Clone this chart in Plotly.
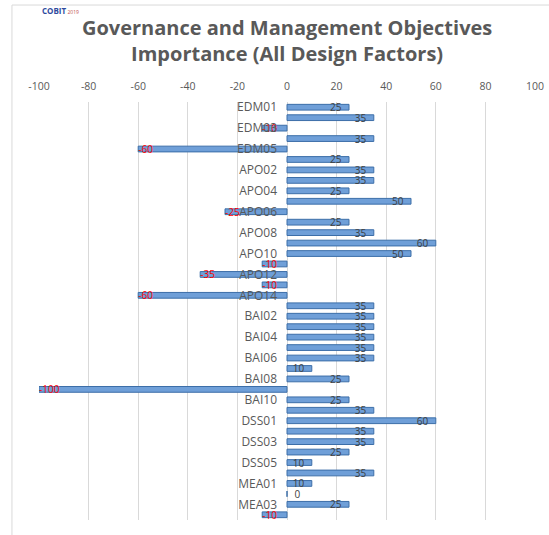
import plotly.graph_objects as go

categories = [
    "EDM01", "EDM02", "EDM03", "EDM04", "EDM05",
    "APO01", "APO02", "APO03", "APO04", "APO05", "APO06", "APO07",
    "APO08", "APO09", "APO10", "APO11", "APO12", "APO13", "APO14",
    "BAI01", "BAI02", "BAI03", "BAI04", "BAI05", "BAI06", "BAI07",
    "BAI08", "BAI09", "BAI10", "BAI11",
    "DSS01", "DSS02", "DSS03", "DSS04", "DSS05", "DSS06",
    "MEA01", "MEA02", "MEA03", "MEA04",
]
importance = [
    25, 35, -10, 35, -60,
    25, 35, 35, 25, 50, -25, 25,
    35, 60, 50, -10, -35, -10, -60,
    35, 35, 35, 35, 35, 35, 10,
    25, -100, 25, 35,
    60, 35, 35, 25, 10, 35,
    10, 0, 25, -10,
]
x_ticks = [-100, -80, -60, -40, -20, 0, 20, 40, 60, 80, 100]
x_tick_labels = ["-100", "-80", "-60", "-40", "-20", "0", "20", "40", "60", "80", "100"]

text_colors = ["#ff0000" if v < 0 else "#404040" for v in importance]
text_pos = ["outside" if v == 0 else "inside" for v in importance]


def label(v):
    if v > 0:
        return str(v) + "\u2002\u00a0"
    if v == 0:
        return "\u2002\u00a0" + str(v)
    return str(v)


bar_text = [label(v) for v in importance]

fig = go.Figure(go.Bar(
    x=importance, y=categories, orientation="h",
    marker=dict(color="#6f9fd8", line=dict(color="#3c6ea8", width=1)),
    text=bar_text,
    textposition=text_pos,
    textangle=0,
    insidetextanchor="end",
    textfont=dict(size=10, color=text_colors, family="Open Sans"),
    outsidetextfont=dict(size=10, color="#404040", family="Open Sans"),
    cliponaxis=False,
))

fig.update_layout(
    width=549, height=535,
    margin=dict(l=39, r=14, t=102, b=15),
    paper_bgcolor="white", plot_bgcolor="white",
    showlegend=False,
    bargap=0.45,
    uniformtext=dict(minsize=10, mode="show"),
    font=dict(family="Open Sans", color="#595959"),
    title=dict(
        text="<b>Governance and Management Objectives<br>Importance (All Design Factors)</b>",
        font=dict(size=20, color="#595959", family="Open Sans"),
        x=0.523, xref="container", xanchor="center",
        y=0.934, yref="container", yanchor="top",
    ),
    xaxis=dict(
        range=[-100, 100], side="top", tickvals=x_ticks, ticktext=x_tick_labels,
        showgrid=True, gridcolor="#d9d9d9", gridwidth=1,
        zeroline=True, zerolinecolor="#d9d9d9", zerolinewidth=1,
        tickfont=dict(size=10.5, color="#595959"),
        showline=False, ticks="", automargin=False, ticklabelstandoff=9,
    ),
    yaxis=dict(
        autorange="reversed", type="category",
        anchor="free", position=0.5,
        tick0=0, dtick=2,
        showgrid=False, zeroline=False, showline=False, ticks="",
        ticklabelstandoff=10, automargin=False,
        tickfont=dict(size=12, color="#595959"),
    ),
    shapes=[dict(
        type="rect", xref="paper", yref="paper",
        x0=-0.0545, x1=1.2, y0=-0.2, y1=1.232,
        line=dict(color="#d9d9d9", width=1), layer="below",
    )],
    annotations=[dict(
        text="<b>COBIT</b><span style='font-size:5px;color:#c0504d'> 2019</span>",
        xref="paper", yref="paper", x=0.002, y=1.219,
        xanchor="left", yanchor="middle", showarrow=False,
        font=dict(size=8, color="#2e4a9e", family="Open Sans"),
    )],
)

fig.write_html("out.html", config={"displayModeBar": False},
               post_script="document.body.style.margin='0';")
